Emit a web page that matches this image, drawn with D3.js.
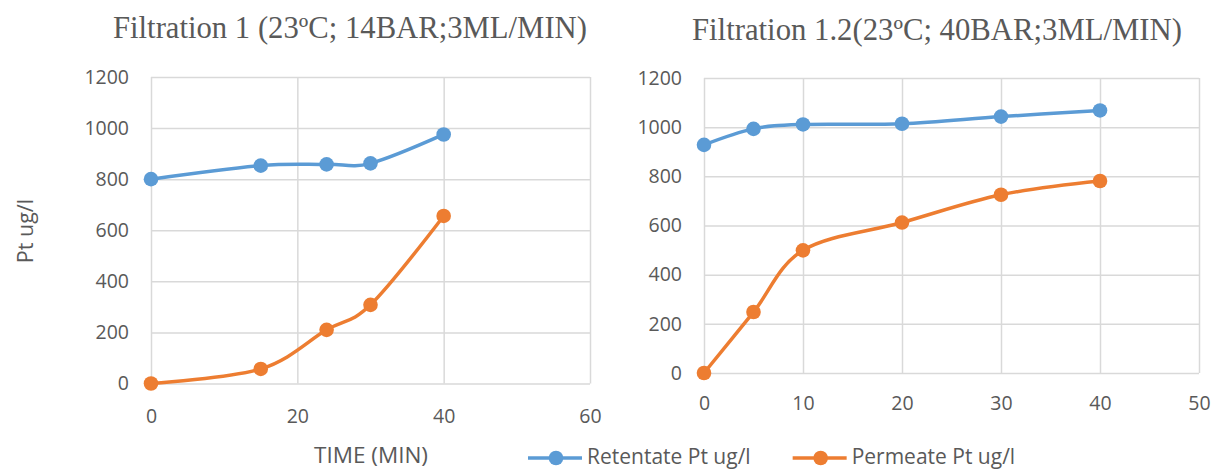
<!DOCTYPE html>
<html>
<head>
<meta charset="utf-8">
<script src="https://cdn.jsdelivr.net/npm/d3@7/dist/d3.min.js"></script>
<style>
  html, body { margin: 0; padding: 0; background: #ffffff; }
  svg { display: block; }
</style>
</head>
<body>
<svg id="chart" width="1212" height="470"></svg>
<script>
// Filtration runs: platinum concentration (ug/l) over time (min)
const run1Times = [0, 15, 24, 30, 40];
const run1Retentate = [800, 853, 858, 862, 975];
const run1Permeate = [0, 57, 210, 308, 656];

const run2Times = [0, 5, 10, 20, 30, 40];
const run2Retentate = [928, 993, 1011, 1014, 1043, 1068];
const run2Permeate = [0, 248, 499, 612, 725, 781];

const yTicks = [0, 200, 400, 600, 800, 1000, 1200];
const run1XTicks = [0, 20, 40, 60];
const run2XTicks = [0, 10, 20, 30, 40, 50];

const seriesNames = ["Retentate Pt ug/l", "Permeate Pt ug/l"];
const titles = ["Filtration 1 (23ºC; 14BAR;3ML/MIN)", "Filtration 1.2(23ºC; 40BAR;3ML/MIN)"];

const BLUE = "#5b9bd5", ORANGE = "#ed7d31", GRID = "#d9d9d9", TEXT = "#595959";
const SANS = "'Open Sans', 'Noto Sans', sans-serif";
const SERIF = "'Liberation Serif', 'DejaVu Serif', serif";

const svg = d3.select("#chart");

// Panel layout
const panels = [
  { times: run1Times, ret: run1Retentate, per: run1Permeate, xTicks: run1XTicks, xMax: 60,
    left: 151, right: 590, top: 77, bottom: 383.5, xLabelPad: 26,
    title: titles[0], titleX: 113, titleY: 38, titleW: 474 },
  { times: run2Times, ret: run2Retentate, per: run2Permeate, xTicks: run2XTicks, xMax: 50,
    left: 704, right: 1199, top: 78, bottom: 373, xLabelPad: 23,
    title: titles[1], titleX: 692, titleY: 40, titleW: 490 }
];

const line = (x, y) => d3.line()
  .x(d => x(d[0])).y(d => y(d[1]))
  .curve(d3.curveCatmullRom.alpha(0));

panels.forEach(p => {
  const x = d3.scaleLinear().domain([0, p.xMax]).range([p.left, p.right]);
  const y = d3.scaleLinear().domain([0, 1200]).range([p.bottom, p.top]);
  const g = svg.append("g");

  // horizontal gridlines + y tick labels
  const yAxis = g.append("g")
    .attr("transform", `translate(${p.left},0)`)
    .call(d3.axisLeft(y).tickValues(yTicks).tickFormat(d3.format("d"))
      .tickSize(-(p.right - p.left)).tickPadding(22));
  // vertical gridlines + x tick labels
  const xAxis = g.append("g")
    .attr("transform", `translate(0,${p.bottom})`)
    .call(d3.axisBottom(x).tickValues(p.xTicks).tickFormat(d3.format("d"))
      .tickSize(-(p.bottom - p.top)).tickPadding(p.xLabelPad));

  [yAxis, xAxis].forEach(a => {
    a.select(".domain").remove();
    a.selectAll(".tick line").attr("stroke", GRID).attr("stroke-width", 1.5);
    a.selectAll(".tick text").attr("fill", TEXT).attr("font-family", SANS).attr("font-size", 19.5);
  });

  // series
  [[p.ret, BLUE], [p.per, ORANGE]].forEach(([vals, color]) => {
    const pts = p.times.map((t, i) => [t, vals[i]]);
    g.append("path").datum(pts)
      .attr("d", line(x, y))
      .attr("fill", "none").attr("stroke", color)
      .attr("stroke-width", 3.5).attr("stroke-linejoin", "round").attr("stroke-linecap", "round");
    g.selectAll(null).data(pts).enter().append("circle")
      .attr("cx", d => x(d[0])).attr("cy", d => y(d[1]))
      .attr("r", 7.3).attr("fill", color);
  });

  // chart title
  g.append("text")
    .attr("x", p.titleX).attr("y", p.titleY)
    .attr("font-family", SERIF).attr("font-size", 31).attr("fill", TEXT)
    .attr("textLength", p.titleW).attr("lengthAdjust", "spacingAndGlyphs")
    .text(p.title);
});

// axis titles (left panel)
svg.append("text")
  .attr("transform", "translate(33,231) rotate(-90)")
  .attr("text-anchor", "middle")
  .attr("font-family", SANS).attr("font-size", 21.5).attr("fill", TEXT)
  .text("Pt ug/l");

svg.append("text")
  .attr("x", 371).attr("y", 463)
  .attr("text-anchor", "middle")
  .attr("font-family", SANS).attr("font-size", 22.5).attr("fill", TEXT)
  .text("TIME (MIN)");

// legend
const legend = svg.append("g");
let lx = 528;
[[seriesNames[0], BLUE], [seriesNames[1], ORANGE]].forEach(([name, color]) => {
  legend.append("line")
    .attr("x1", lx).attr("x2", lx + 54).attr("y1", 458).attr("y2", 458)
    .attr("stroke", color).attr("stroke-width", 3.5);
  legend.append("circle").attr("cx", lx + 28).attr("cy", 458).attr("r", 7.3).attr("fill", color);
  const t = legend.append("text")
    .attr("x", lx + 59).attr("y", 464)
    .attr("font-family", SANS).attr("font-size", 21).attr("fill", TEXT)
    .text(name);
  lx += 59 + t.node().getComputedTextLength() + 42;
});
</script>
</body>
</html>
